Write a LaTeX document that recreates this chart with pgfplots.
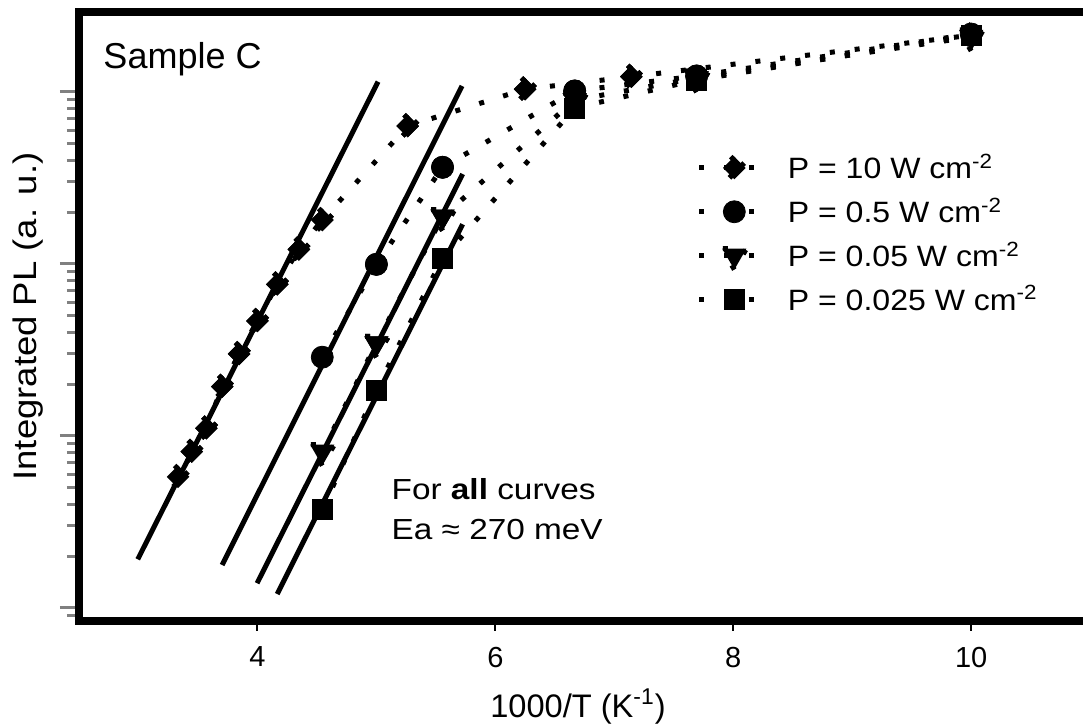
\documentclass[border=0pt]{standalone}
\usepackage{fontspec}
\setmainfont{Liberation Sans}
\newfontfamily\legfont{Liberation Sans}[FakeStretch=1.09]
\newfontfamily\notefont{Liberation Sans}[FakeStretch=1.15]
\newfontfamily\ylabfont{Liberation Sans}[FakeStretch=1.12]
\usepackage{pgfplots}
\usepackage{pgfplotstable}
\pgfplotsset{compat=1.18}

% measured PL data, x = 1000/T; nan rows split the dotted line into segments
\pgfplotstableread{
x      y
3.333  5.79
3.448  8.11
nan    nan
3.448  8.11
3.571  11.09
nan    nan
3.571  11.09
3.704  19.36
nan    nan
3.704  19.36
3.846  29.99
nan    nan
3.846  29.99
4.000  46.67
nan    nan
4.000  46.67
4.167  76.2
nan    nan
4.167  76.2
4.348  121.6
nan    nan
4.348  121.6
4.545  180.3
nan    nan
4.545  180.3
5.263  633.9
nan    nan
5.263  633.9
6.250  1038
nan    nan
6.250  1038
7.143  1227
nan    nan
7.143  1227
10.00  2138
}\pten
\pgfplotstableread{
x      y
4.545  28.71
5.000  99.5
nan    nan
5.000  99.5
5.556  364.8
nan    nan
5.556  364.8
6.667  1014
nan    nan
6.667  1014
7.692  1239
nan    nan
7.692  1239
10.00  2173
}\phalf
\pgfplotstableread{
x      y
4.545  8.11
5.000  34.59
nan    nan
5.000  34.59
5.556  188.4
nan    nan
5.556  188.4
6.667  897.5
nan    nan
6.667  897.5
7.692  1205
nan    nan
7.692  1205
10.00  2089
}\pfive
\pgfplotstableread{
x      y
4.545  3.72
5.000  18.49
nan    nan
5.000  18.49
5.556  107.9
nan    nan
5.556  107.9
6.667  807.2
nan    nan
6.667  807.2
7.692  1175
nan    nan
7.692  1175
10.00  2138
}\pquarter

\begin{document}
\begin{tikzpicture}
\begin{axis}[
    scale only axis,
    width=502pt, height=304.5pt,
    xmin=2.5, xmax=10.94,
    ymin=0.84, ymax=2917,
    ymode=log,
    clip=false,
    unbounded coords=jump,
    axis x line=box, axis y line=left,
    axis line style={line width=4pt, line cap=rect},
    x axis line style={-}, y axis line style={-},
    xtick={4,6,8,10}, xtick style={draw=none},
    yticklabel=\empty,
    ytick style={line width=1.5pt},
    tick align=outside,
    major tick length=9.5pt, minor tick length=6pt,
    /pgf/number format/assume math mode=true,
    tick label style={font=\fontsize{14.5}{17}\selectfont},
    xlabel={1000/T (K\textsuperscript{-1})},
    ylabel={Integrated PL (a. u.)},
    xlabel style={font=\fontsize{16.3}{19}\selectfont,
        at={([yshift=-48pt]axis description cs:0.497,0)}, anchor=base},
    ylabel style={font=\ylabfont\fontsize{16.3}{19}\selectfont,
        at={([xshift=-21pt]axis description cs:0,0.5)}, anchor=base},
    every axis plot/.append style={black, line width=2.5pt, line cap=butt,
        dash pattern=on 2.5pt off 10pt, mark options={solid, fill=black, line width=0.4pt}},
    legend image code/.code={
        \draw[#1] (0pt,0pt) -- (27.5pt,0pt);
        \draw[#1] plot coordinates {(17.5pt,0pt)};
    },
    legend style={draw=none, fill=none, at={(rel axis cs:0.609,0.636)}, anchor=west,
        font=\legfont\fontsize{14.7}{17}\selectfont, row sep=4pt, column sep=13.5pt},
    legend cell align=left,
]
% Arrhenius fits
\addplot[solid, forget plot] coordinates {(2.994,1.919) (5.014,1148)};
\addplot[solid, forget plot] coordinates {(3.703,1.778) (5.720,1084)};
\addplot[solid, forget plot] coordinates {(3.997,1.393) (5.725,333.4)};
\addplot[solid, forget plot] coordinates {(4.166,1.205) (5.725,170.2)};

\addplot[mark=square*, mark size=4pt, mark options={rotate=45}] table {\pten};
\addlegendentry{P = 10 W cm\textsuperscript{-2}}
\addplot[mark=*, mark size=5.5pt] table {\phalf};
\addlegendentry{P = 0.5 W cm\textsuperscript{-2}}
\addplot[mark=triangle*, mark size=7pt, mark options={rotate=180}] table {\pfive};
\addlegendentry{P = 0.05 W cm\textsuperscript{-2}}
\addplot[mark=square*, mark size=5pt] table {\pquarter};
\addlegendentry{P = 0.025 W cm\textsuperscript{-2}}

\draw[line width=1pt] (axis cs:4,0.84) -- ++(0pt,-5pt);
\draw[line width=1pt] (axis cs:6,0.84) -- ++(0pt,-5pt);
\draw[line width=1pt] (axis cs:8,0.84) -- ++(0pt,-5pt);
\draw[line width=1pt] (axis cs:10,0.84) -- ++(0pt,-5pt);

\node[anchor=base west, inner sep=0pt, font=\fontsize{18}{21}\selectfont]
    at (rel axis cs:0.024,0.908) {Sample C};
\node[anchor=base west, inner sep=0pt, font=\notefont\fontsize{14.5}{17}\selectfont]
    at (rel axis cs:0.311,0.1987) {For \textbf{all} curves};
\node[anchor=base west, inner sep=0pt, font=\notefont\fontsize{14.5}{17}\selectfont]
    at (rel axis cs:0.311,0.1346) {Ea ≈ 270 meV};
\end{axis}
\pgfresetboundingbox
\path ([shift={(-39.5pt,-52pt)}]current axis.south west) rectangle ([shift={(0pt,6pt)}]current axis.north east);
\end{tikzpicture}
\end{document}
